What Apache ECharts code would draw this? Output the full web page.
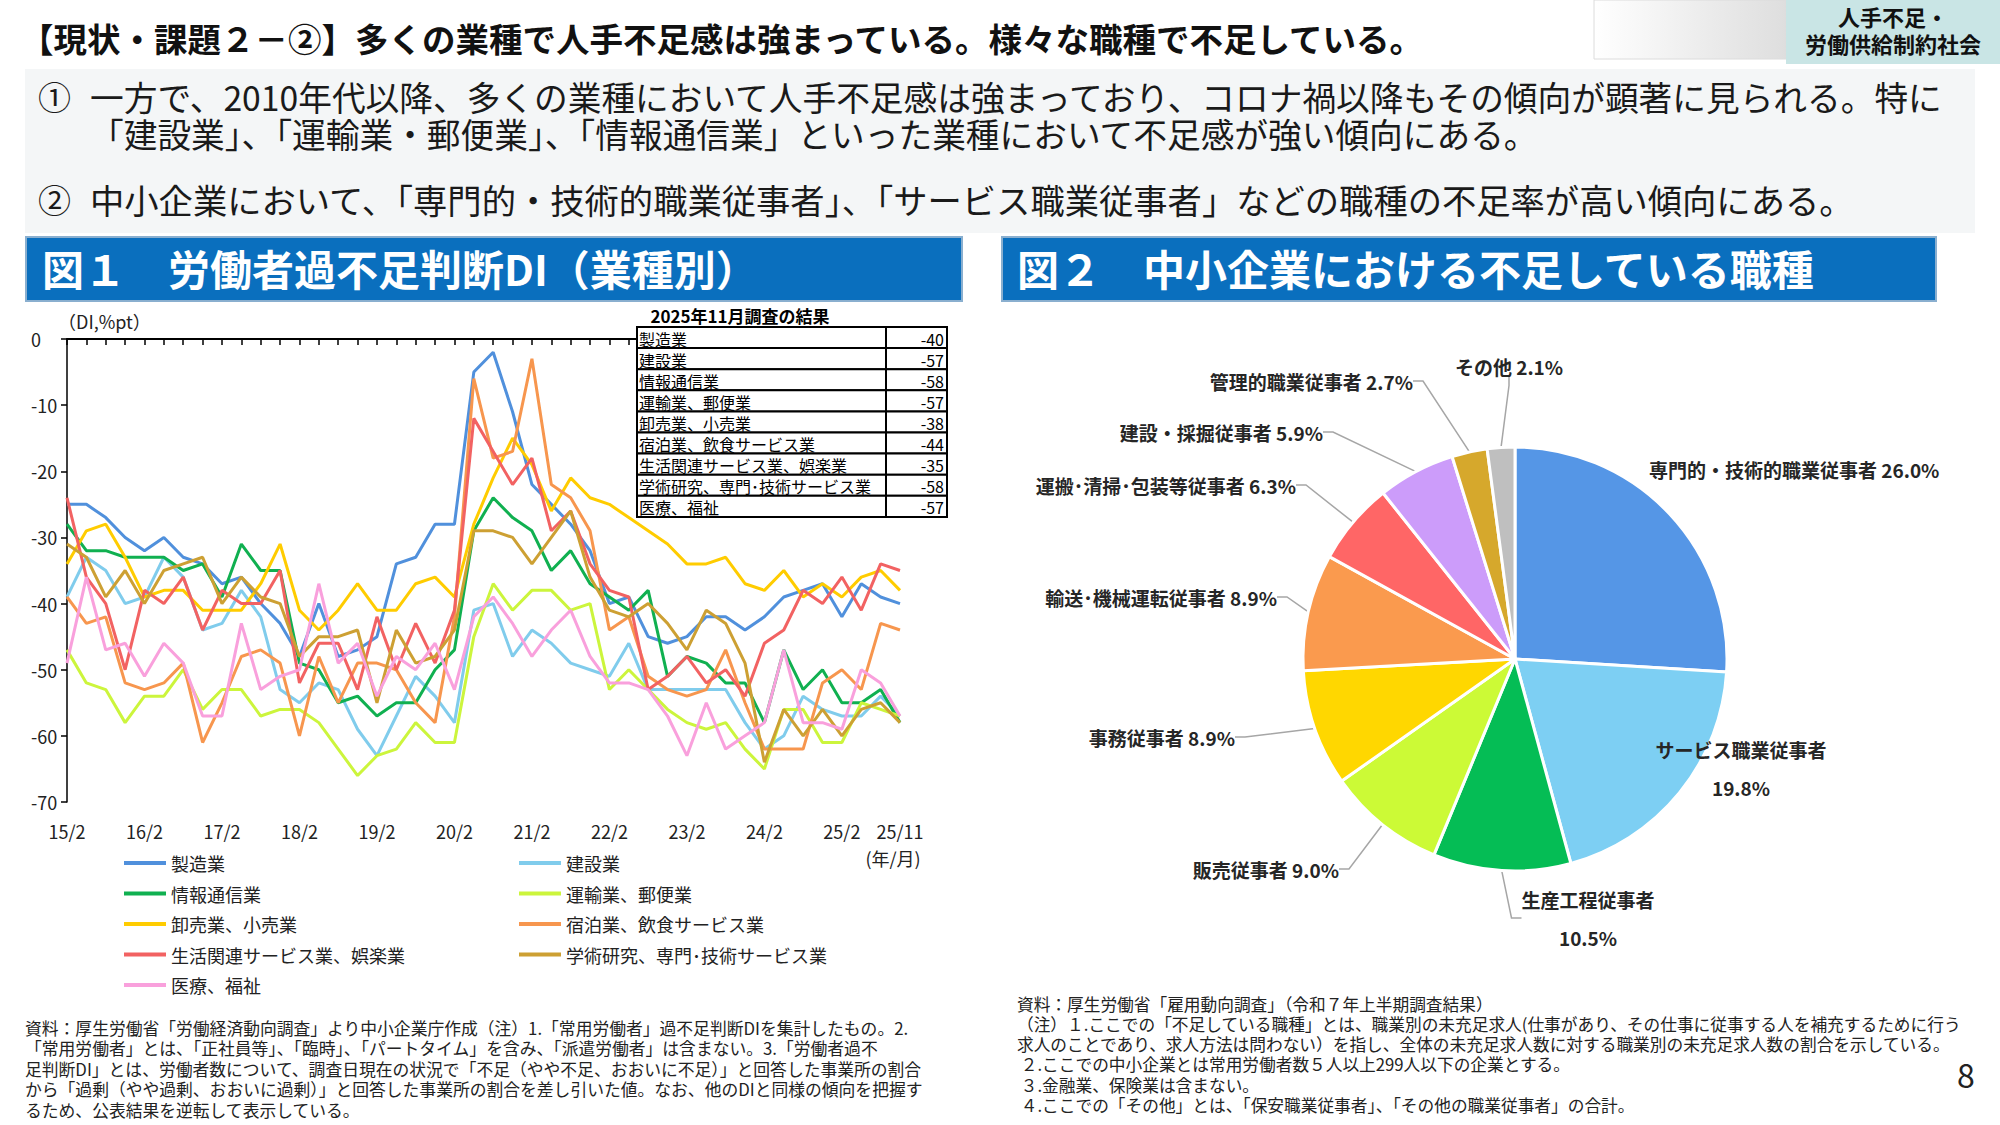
<!DOCTYPE html>
<html lang="ja">
<head>
<meta charset="utf-8">
<title>人手不足・労働供給制約社会</title>
<script src="https://cdn.jsdelivr.net/npm/echarts@6.0.0/dist/echarts.min.js"></script>
<style>
  html, body { margin: 0; padding: 0; background: #fff; }
  body { position: relative; width: 2000px; height: 1125px; overflow: hidden;
         font-family: "Noto Sans CJK JP", "Noto Sans", sans-serif; color: #1a1a1a; }
  #chart { position: absolute; left: 0; top: 0; width: 2000px; height: 1125px; }
  .t { position: absolute; white-space: pre; z-index: 5; }
</style>
</head>
<body>
<div id="chart"></div>

<div class="t" style="left:20px; top:18px; font-size:33.5px; line-height:40px; font-weight:bold; color:#111;">【現状・課題２－②】多くの業種で人手不足感は強まっている。様々な職種で不足している。</div>
<div class="t" style="left:1786px; width:214px; top:2.5px; font-size:22px; line-height:27px; font-weight:bold; text-align:center; color:#111;">人手不足・
労働供給制約社会</div>

<div class="t" style="left:38px; top:77.5px; font-size:33px; line-height:37px;">①</div>
<div class="t" style="left:90px; top:77.5px; font-size:33.7px; line-height:37px;">一方で、2010年代以降、多くの業種において人手不足感は強まっており、コロナ禍以降もその傾向が顕著に見られる。特に
「建設業」、「運輸業・郵便業」、「情報通信業」といった業種において不足感が強い傾向にある。</div>
<div class="t" style="left:38px; top:180.5px; font-size:33px; line-height:37px;">②</div>
<div class="t" style="left:90px; top:180.5px; font-size:34.3px; line-height:37px;">中小企業において、「専門的・技術的職業従事者」、「サービス職業従事者」などの職種の不足率が高い傾向にある。</div>

<div class="t" style="left:42px; top:244px; font-size:42px; line-height:48px; font-weight:bold; color:#fff;">図１　労働者過不足判断DI（業種別）</div>
<div class="t" style="left:1017px; top:244px; font-size:42px; line-height:48px; font-weight:bold; color:#fff;">図２　中小企業における不足している職種</div>

<div class="t" style="left:25px; top:1017.75px; font-size:16.8px; line-height:20.5px; color:#222;">資料：厚生労働省「労働経済動向調査」より中小企業庁作成（注）1.「常用労働者」過不足判断DIを集計したもの。2.
「常用労働者」とは、「正社員等」、「臨時」、「パートタイム」を含み、「派遣労働者」は含まない。3.「労働者過不
足判断DI」とは、労働者数について、調査日現在の状況で「不足（やや不足、おおいに不足）」と回答した事業所の割合
から「過剰（やや過剰、おおいに過剰）」と回答した事業所の割合を差し引いた値。なお、他のDIと同様の傾向を把握す
るため、公表結果を逆転して表示している。</div>
<div class="t" style="left:1017px; top:994.2px; font-size:16.7px; line-height:20.1px; color:#222;">資料：厚生労働省「雇用動向調査」（令和７年上半期調査結果）
（注）１.ここでの「不足している職種」とは、職業別の未充足求人(仕事があり、その仕事に従事する人を補充するために行う
求人のことであり、求人方法は問わない）を指し、全体の未充足求人数に対する職業別の未充足求人数の割合を示している。
 ２.ここでの中小企業とは常用労働者数５人以上299人以下の企業とする。
 ３.金融業、保険業は含まない。
 ４.ここでの「その他」とは、「保安職業従事者」、「その他の職業従事者」の合計。</div>
<div class="t" style="left:1950px; width:32px; text-align:center; top:1054px; font-size:32px; line-height:40px; color:#222;">8</div>

<script>
// ---- 図1 労働者過不足判断DI（業種別）----
const quarters = ['15/2','15/5','15/8','15/11','16/2','16/5','16/8','16/11','17/2','17/5','17/8','17/11',
  '18/2','18/5','18/8','18/11','19/2','19/5','19/8','19/11','20/2','20/5','20/8','20/11',
  '21/2','21/5','21/8','21/11','22/2','22/5','22/8','22/11','23/2','23/5','23/8','23/11',
  '24/2','24/5','24/8','24/11','25/2','25/5','25/8','25/11'];
const yTicks = { min: -70, max: 0, step: 10 };

const manufacturing = [-25,-25,-27,-30,-32,-30,-33,-34,-37,-36,-40,-43,-48,-40,-48,-47,-45,-34,-33,-28,-28,-5,-2,-11,-22,-25,-28,-32,-40,-39,-45,-46,-45,-42,-42,-44,-42,-39,-38,-37,-42,-37,-39,-40];
const construction = [-39,-33,-35,-40,-39,-33,-36,-44,-43,-38,-42,-53,-55,-52,-53,-59,-63,-57,-51,-54,-58,-41,-40,-48,-44,-46,-49,-50,-51,-46,-53,-53,-53,-53,-53,-58,-62,-60,-54,-56,-57,-57,-54,-57];
const infoComm = [-28,-32,-32,-33,-33,-33,-35,-34,-39,-31,-35,-35,-49,-50,-55,-54,-57,-55,-55,-50,-47,-29,-24,-27,-29,-35,-32,-37,-39,-41,-38,-51,-48,-49,-52,-52,-58,-47,-53,-50,-55,-55,-53,-58];
const transport = [-47,-52,-53,-58,-54,-54,-50,-56,-53,-53,-57,-56,-56,-58,-62,-66,-63,-62,-58,-61,-61,-45,-37,-41,-38,-38,-41,-40,-53,-50,-53,-56,-58,-59,-58,-62,-65,-56,-56,-61,-61,-55,-56,-57];
const wholesale = [-34,-29,-28,-33,-39,-38,-38,-41,-41,-41,-37,-31,-41,-44,-41,-37,-41,-41,-37,-36,-39,-28,-21,-15,-19,-26,-21,-24,-25,-27,-29,-31,-34,-34,-33,-37,-38,-35,-39,-37,-39,-36,-35,-38];
const accommodation = [-39,-43,-42,-52,-53,-52,-49,-61,-55,-48,-47,-49,-60,-48,-55,-49,-49,-50,-55,-58,-42,-6,-18,-17,-3,-22,-24,-29,-44,-42,-51,-53,-54,-53,-47,-55,-62,-62,-62,-52,-50,-53,-43,-44];
const lifestyle = [-24,-36,-40,-50,-38,-40,-36,-44,-38,-40,-40,-35,-52,-46,-46,-53,-42,-50,-43,-49,-41,-12,-17,-22,-18,-29,-26,-34,-38,-39,-53,-51,-48,-52,-50,-54,-46,-44,-38,-40,-36,-41,-34,-35];
const academic = [-31,-33,-39,-35,-40,-35,-34,-33,-40,-36,-39,-40,-48,-45,-45,-44,-55,-44,-49,-48,-44,-29,-29,-30,-34,-30,-26,-36,-41,-42,-40,-43,-47,-41,-43,-49,-64,-56,-60,-56,-60,-56,-55,-58];
const medical = [-49,-36,-47,-46,-51,-46,-49,-57,-57,-43,-53,-51,-50,-37,-49,-46,-54,-48,-50,-46,-53,-42,-39,-43,-48,-44,-41,-48,-52,-52,-53,-57,-63,-55,-62,-60,-58,-47,-58,-58,-59,-50,-52,-57];

const industryNames = ['製造業','建設業','情報通信業','運輸業、郵便業','卸売業、小売業',
  '宿泊業、飲食サービス業','生活関連サービス業、娯楽業','学術研究、専門･技術サービス業','医療、福祉'];
const industryValues = [manufacturing, construction, infoComm, transport, wholesale,
  accommodation, lifestyle, academic, medical];
const industryColors = ['#5090DC','#80CCEC','#10B050','#CCF53C','#FFCC00','#F7964E','#F26262','#CDA033','#F9A0DC'];

// ---- 図2 中小企業における不足している職種 ----
const occupations = ['専門的・技術的職業従事者','サービス職業従事者','生産工程従事者','販売従事者','事務従事者',
  '輸送･機械運転従事者','運搬･清掃･包装等従事者','建設・採掘従事者','管理的職業従事者','その他'];
const shares = [26.0, 19.8, 10.5, 9.0, 8.9, 8.9, 6.3, 5.9, 2.7, 2.1];
const occupationColors = ['#5596E6','#7DCFF3','#05BD55','#CCFA36','#FFD700','#FA9A4E','#FF6666','#CC9CFA','#D6A82C','#BFBFBF'];

// label positions for the pie (x, y, align) -- layout only
const pieLabelSpots = [
  [1649, 469, 'left'], [1741, 768, 'center'], [1588, 918, 'center'], [1339, 869, 'right'],
  [1235, 737, 'right'], [1277, 597, 'right'], [1296, 485, 'right'], [1323, 432, 'right'],
  [1413, 381, 'right'], [1509, 366, 'center']
];
const pieNoLine = [0, 1];
const pieTwoLine = [1, 2];

const FONT = '"Noto Sans CJK JP", "Noto Sans", sans-serif';

function txt(text, x, y, size, style) {
  return {
    type: 'text', z: 100,
    style: Object.assign({
      text: text, x: x, y: y, fontSize: size, fontFamily: FONT,
      fill: '#1a1a1a', verticalAlign: 'middle', align: 'left'
    }, style || {})
  };
}

const chart = echarts.init(document.getElementById('chart'), null, { renderer: 'svg' });

// 図1 の表（各系列の最終値）
const tableX = 637, tableY = 327, tableW = 310, rowH = 21.1, splitX = 886;
const tableEls = [];
industryNames.forEach((n, i) => {
  const vals = industryValues[i];
  const y = tableY + i * rowH;
  tableEls.push({ type: 'rect', z: 100, shape: { x: tableX, y: y, width: tableW, height: rowH },
    style: { fill: '#fff', stroke: '#000', lineWidth: 2 } });
  tableEls.push({ type: 'line', z: 101, shape: { x1: splitX, y1: y, x2: splitX, y2: y + rowH },
    style: { stroke: '#000', lineWidth: 2 } });
  tableEls.push(txt(n, tableX + 2, y + rowH / 2 + 1, 16, { fill: '#000' }));
  tableEls.push(txt(String(vals[vals.length - 1]), tableX + tableW - 3, y + rowH / 2 + 1, 16,
    { fill: '#000', align: 'right' }));
});

const graphics = [
  // top-right tag backgrounds
  { type: 'rect', z: 90, shape: { x: 1594, y: 0, width: 192, height: 59 },
    style: { stroke: '#dcdcdc', lineWidth: 1,
      fill: new echarts.graphic.LinearGradient(0, 0, 1, 0, [{ offset: 0, color: '#ffffff' }, { offset: 1, color: '#dedede' }]) } },
  { type: 'rect', z: 91, shape: { x: 1786, y: 0, width: 214, height: 64 }, style: { fill: '#C9E5E5' } },
  // summary box
  { type: 'rect', z: 1, shape: { x: 25, y: 69, width: 1950, height: 164 }, style: { fill: '#F4F6F7' } },
  // figure header bars
  { type: 'rect', z: 90, shape: { x: 26, y: 237, width: 936, height: 64 },
    style: { fill: '#0A6FBE', stroke: '#8AAFCF', lineWidth: 2 } },
  { type: 'rect', z: 90, shape: { x: 1002, y: 237, width: 934, height: 64 },
    style: { fill: '#0A6FBE', stroke: '#8AAFCF', lineWidth: 2 } },

  // fig 1 annotations
  { type: 'line', z: 50, shape: { x1: 67, y1: 339, x2: 640, y2: 339 }, style: { stroke: '#000', lineWidth: 1 } },
  txt('（DI,%pt）', 58, 321, 18, { fill: '#222' }),
  txt('(年/月)', 893, 858, 18, { fill: '#222', align: 'center' }),
  txt('2025年11月調査の結果', 740, 315, 17, { fill: '#000', fontWeight: 'bold', align: 'center' }),
  ...tableEls
];

const lineSeries = industryNames.map((n, i) => ({
  name: n,
  type: 'line',
  data: industryValues[i],
  symbol: 'none',
  lineStyle: { width: 3, color: industryColors[i] },
  itemStyle: { color: industryColors[i] },
  emphasis: { disabled: true }
}));

const pieSeries = {
  name: '不足している職種',
  type: 'pie',
  center: [1515, 659],
  radius: 212,
  startAngle: 90,
  clockwise: true,
  avoidLabelOverlap: false,
  itemStyle: { borderColor: '#fff', borderWidth: 3 },
  emphasis: { disabled: true },
  label: {
    show: true,
    position: 'outside',
    fontSize: 19,
    fontWeight: 'bold',
    color: '#262626',
    lineHeight: 19,
    fontFamily: FONT,
    formatter: p => pieTwoLine.includes(p.dataIndex)
      ? p.name + '\n\n' + p.value.toFixed(1) + '%'
      : p.name + ' ' + p.value.toFixed(1) + '%'
  },
  labelLine: { show: true, length: 10, length2: 10, lineStyle: { color: '#A6A6A6', width: 1.5 } },
  labelLayout: params => {
    const s = pieLabelSpots[params.dataIndex];
    return { x: s[0], y: s[1], align: s[2], verticalAlign: 'middle' };
  },
  data: occupations.map((n, i) => ({
    name: n,
    value: shares[i],
    itemStyle: { color: occupationColors[i] },
    labelLine: { show: !pieNoLine.includes(i) }
  }))
};

const legendCommon = {
  orient: 'vertical',
  top: 848,
  icon: 'rect',
  itemWidth: 42,
  itemHeight: 4,
  itemGap: 10.5,
  selectedMode: false,
  textStyle: { fontSize: 18, lineHeight: 20, color: '#222', fontFamily: FONT }
};

const option = {
  animation: false,
  backgroundColor: 'transparent',
  textStyle: { fontFamily: FONT },
  graphic: { elements: graphics },
  grid: { left: 67, right: 1100, top: 339, bottom: 323, containLabel: false },
  legend: [
    Object.assign({ left: 119, data: [industryNames[0], industryNames[2], industryNames[4], industryNames[6], industryNames[8]] }, legendCommon),
    Object.assign({ left: 514, data: [industryNames[1], industryNames[3], industryNames[5], industryNames[7]] }, legendCommon)
  ],
  xAxis: {
    type: 'category',
    data: quarters,
    boundaryGap: false,
    axisLine: { lineStyle: { color: '#000', width: 2 } },
    axisTick: { show: true, interval: 0, length: 6, lineStyle: { color: '#000', width: 1.5 } },
    axisLabel: {
      interval: (idx) => idx % 4 === 0 || idx === quarters.length - 1,
      fontSize: 18, color: '#222', margin: 20
    },
    splitLine: { show: false }
  },
  yAxis: {
    type: 'value',
    min: yTicks.min,
    max: yTicks.max,
    interval: yTicks.step,
    axisLine: { show: true, lineStyle: { color: '#000', width: 1.5 } },
    axisTick: { show: true, length: 6, lineStyle: { color: '#000', width: 1.5 } },
    axisLabel: { fontSize: 18, color: '#222', align: 'left', margin: 36 },
    splitLine: { show: false }
  },
  series: [...lineSeries, pieSeries]
};

chart.setOption(option);
</script>
</body>
</html>
